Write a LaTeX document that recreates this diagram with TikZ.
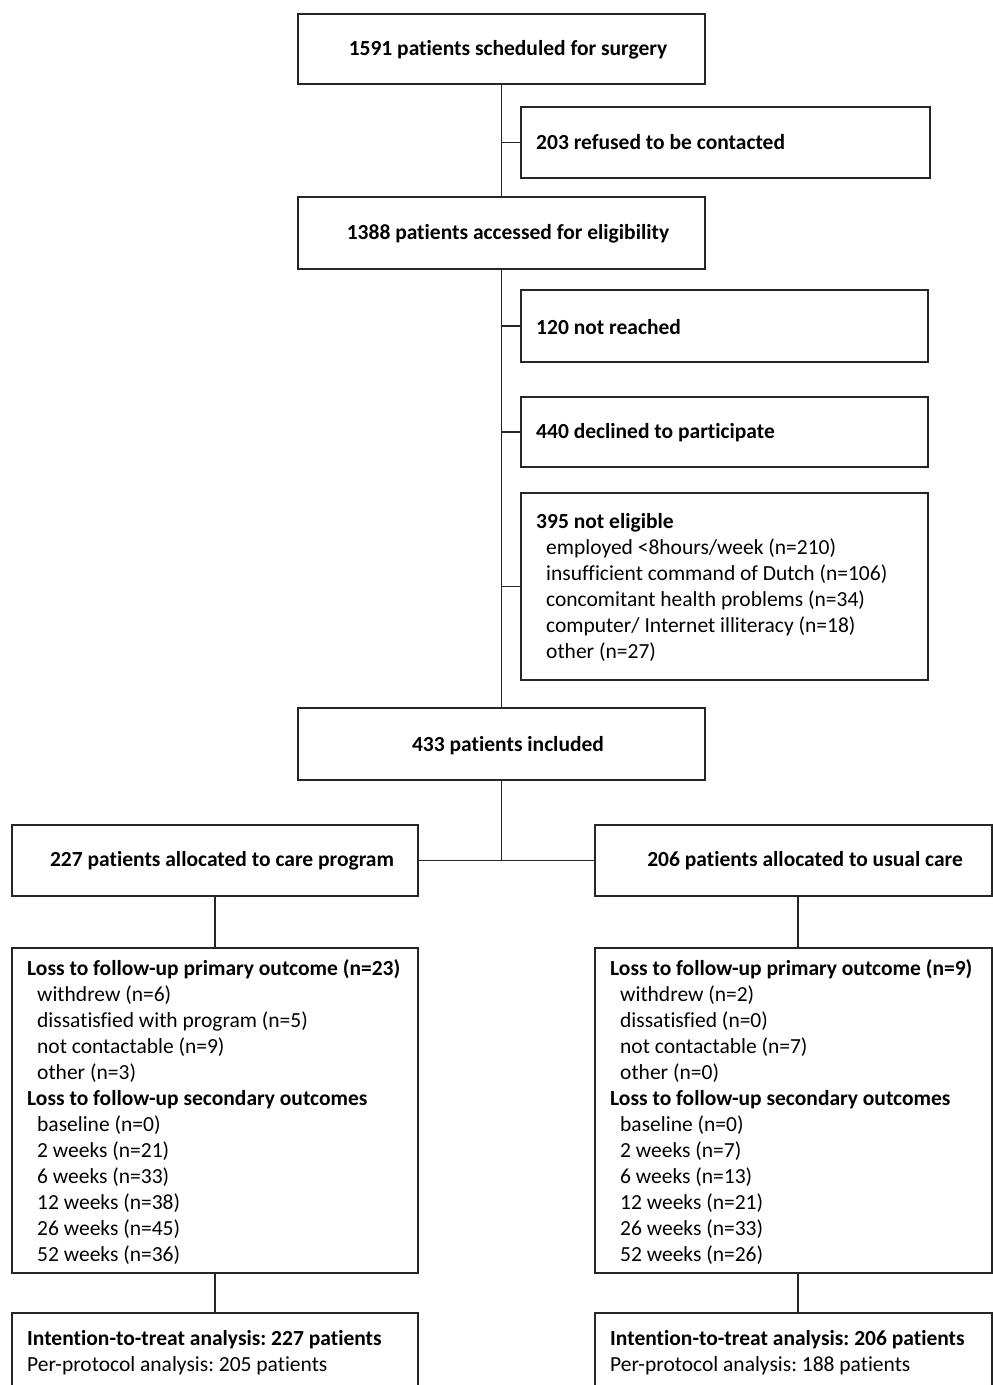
\documentclass[tikz,border=0pt]{standalone}
\usepackage{fontspec}
\setmainfont[Ligatures={NoCommon}]{Carlito}
\frenchspacing
\begin{document}
\begin{tikzpicture}[x=1pt,y=-1pt,
  box/.style={draw=black!85, line width=1.6pt, rectangle, inner sep=0pt},
  txt/.style={inner sep=0pt, yshift=-1.5pt, font=\fontsize{21.5}{26}\selectfont\bfseries},
  ltxt/.style={inner sep=0pt, yshift=-1.5pt, anchor=west, align=left, font=\fontsize{21.5}{26}\selectfont},
  conn/.style={draw=black!85, line width=1.6pt}]
\useasboundingbox (0,0) rectangle (993,1385);
\clip (0,0) rectangle (993,1385);
% trunk boxes
\node[box, minimum width=407pt, minimum height=70pt] (b1) at (501.5,49) {};
\node[txt] (t1) at (508,48) {1591 patients scheduled for surgery};
\node[box, minimum width=409pt, minimum height=71pt] (b2) at (725.5,142.5) {};
\node[txt, anchor=west] (t2) at (536,141) {203 refused to be contacted};
\node[box, minimum width=407pt, minimum height=72pt] (b3) at (501.5,233) {};
\node[txt] (t3) at (508,232) {1388 patients accessed for eligibility};
\node[box, minimum width=407pt, minimum height=72pt] (b4) at (724.5,326) {};
\node[txt, anchor=west] (t4) at (536,326) {120 not reached};
\node[box, minimum width=407pt, minimum height=70pt] (b5) at (724.5,432) {};
\node[txt, anchor=west] (t5) at (536,431) {440 declined to participate};
\node[box, minimum width=407pt, minimum height=187pt] (b6) at (724.5,586.5) {};
\node[ltxt] (t6) at (536,586) {\textbf{395 not eligible}\\
\hspace*{10pt}employed <8hours/week (n=210)\\
\hspace*{10pt}insufficient command of Dutch (n=106)\\
\hspace*{10pt}concomitant health problems (n=34)\\
\hspace*{10pt}computer/ Internet illiteracy (n=18)\\
\hspace*{10pt}other (n=27)};
\node[box, minimum width=407pt, minimum height=72pt] (b7) at (501.5,744) {};
\node[txt] (t7) at (508,744) {433 patients included};
% arms
\node[box, minimum width=406pt, minimum height=71pt] (b8) at (215,860.5) {};
\node[txt] (t8) at (222,859) {227 patients allocated to care program};
\node[box, minimum width=397pt, minimum height=71pt] (b9) at (793.5,860.5) {};
\node[txt] (t9) at (805,859) {206 patients allocated to usual care};
\node[box, minimum width=406pt, minimum height=325pt] (b10) at (215,1110.5) {};
\node[ltxt] (t10) at (27,1110) {\textbf{Loss to follow-up primary outcome (n=23)}\\
\hspace*{10pt}withdrew (n=6)\\
\hspace*{10pt}dissatisfied with program (n=5)\\
\hspace*{10pt}not contactable (n=9)\\
\hspace*{10pt}other (n=3)\\
\textbf{Loss to follow-up secondary outcomes}\\
\hspace*{10pt}baseline (n=0)\\
\hspace*{10pt}2 weeks (n=21)\\
\hspace*{10pt}6 weeks (n=33)\\
\hspace*{10pt}12 weeks (n=38)\\
\hspace*{10pt}26 weeks (n=45)\\
\hspace*{10pt}52 weeks (n=36)};
\node[box, minimum width=397pt, minimum height=325pt] (b11) at (793.5,1110.5) {};
\node[ltxt] (t11) at (610,1110) {\textbf{Loss to follow-up primary outcome (n=9)}\\
\hspace*{10pt}withdrew (n=2)\\
\hspace*{10pt}dissatisfied (n=0)\\
\hspace*{10pt}not contactable (n=7)\\
\hspace*{10pt}other (n=0)\\
\textbf{Loss to follow-up secondary outcomes}\\
\hspace*{10pt}baseline (n=0)\\
\hspace*{10pt}2 weeks (n=7)\\
\hspace*{10pt}6 weeks (n=13)\\
\hspace*{10pt}12 weeks (n=21)\\
\hspace*{10pt}26 weeks (n=33)\\
\hspace*{10pt}52 weeks (n=26)};
\node[box, minimum width=406pt, minimum height=90pt] (b12) at (215,1358) {};
\node[ltxt] (t12) at (27,1351) {\textbf{Intention-to-treat analysis: 227 patients}\\
Per-protocol analysis: 205 patients};
\node[box, minimum width=397pt, minimum height=90pt] (b13) at (793.5,1358) {};
\node[ltxt] (t13) at (610,1351) {\textbf{Intention-to-treat analysis: 206 patients}\\
Per-protocol analysis: 188 patients};
% connectors
\draw[conn] (b1.south) -- (b3.north);
\draw[conn] (b2.west) -- (b2.west -| b1.south);
\draw[conn] (b3.south) -- (b7.north);
\draw[conn] (b4.west) -- (b4.west -| b3.south);
\draw[conn] (b5.west) -- (b5.west -| b3.south);
\draw[conn] (b6.west) -- (b6.west -| b3.south);
\draw[conn] (b7.south) -- (b7.south |- b8.east);
\draw[conn] (b8.east) -- (b9.west);
\draw[conn] (b8.south) -- (b10.north);
\draw[conn] ([xshift=4.5pt]b9.south) -- ([xshift=4.5pt]b11.north);
\draw[conn] (b10.south) -- (b12.north);
\draw[conn] ([xshift=4.5pt]b11.south) -- ([xshift=4.5pt]b13.north);
\end{tikzpicture}
\end{document}
